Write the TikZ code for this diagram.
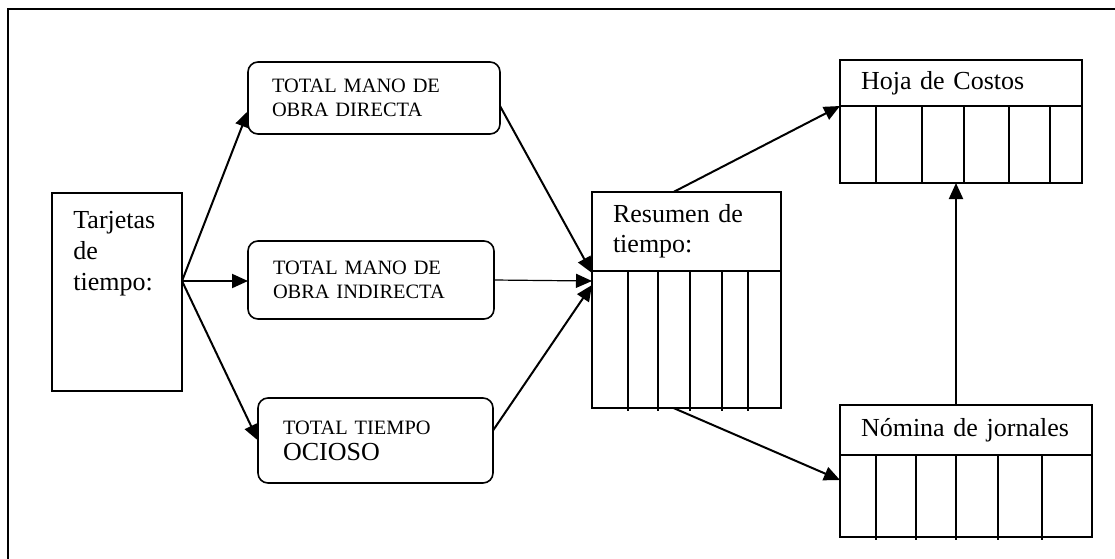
\documentclass[tikz,border=0pt]{standalone}
\usepackage{fontspec}
\setmainfont{Liberation Serif}
\usepackage{tikz}
\usetikzlibrary{positioning, arrows.meta}

\begin{document}
\begin{tikzpicture}[x=0.5pt, y=-0.5pt,
    box/.style={draw, line width=0.8pt, outer sep=0pt},
    roundbox/.style={box, rounded corners=5pt, align=left, font=\fontsize{10.2}{12}\selectfont},
    head/.style={box, align=left, font=\fontsize{13}{15}\selectfont},
    tip/.style={-{Triangle[length=8pt, width=7pt]}},
    arr/.style={tip, line width=1pt}]
            \useasboundingbox (0,0) rectangle (1115,558);
            \clip (0,0) rectangle (1115,558);

            % Outer frame
            \draw[line width=0.8pt] (8,9) rectangle (1130,575);

            % Tarjetas de tiempo
            \node[box, minimum width=65pt, minimum height=99pt] (tarj) at (117,292) {};
            \node[anchor=base west, align=left, inner sep=0pt, font=\fontsize{13}{15.3}\selectfont] (tarjtxt) at (73,290) {Tarjetas\\de\\tiempo:};
            \coordinate (split) at (182,281);

            % Rounded boxes
            \node[roundbox, minimum width=126pt, minimum height=36pt, text width=102pt, inner xsep=12pt] (tmod) at (374,98) {TOTAL MANO DE\\OBRA DIRECTA};
            \node[roundbox, minimum width=123pt, minimum height=39pt, text width=98pt, inner xsep=12.5pt] (tmoi) at (371,280) {TOTAL MANO DE\\OBRA INDIRECTA};
            \node[roundbox, minimum width=117.5pt, minimum height=42.5pt, text width=92.5pt, inner xsep=12.5pt] (tto) at (375.5,440.5) {TOTAL TIEMPO\\[1pt]{\fontsize{13}{15}\selectfont OCIOSO}};

            % Resumen de tiempo
            \node[head, minimum width=94.5pt, minimum height=39.5pt, text width=73.5pt, inner xsep=10.5pt] (resh) at (686.5,231.5) {Resumen de\\tiempo:};
            \node[box, minimum width=94.5pt, minimum height=68.5pt, below=0pt of resh] (resb) {};
            \foreach \dx in {36,66,98,130,156}
                \draw[line width=0.8pt] ([xshift=\dx*0.5pt]resb.north west) -- ++(0,140);

            % Hoja de Costos
            \node[head, minimum width=121pt, minimum height=23pt, text width=100pt, inner xsep=10.5pt] (hojah) at (961,83) {Hoja de Costos};
            \node[box, minimum width=121pt, minimum height=38.5pt, below=0pt of hojah] (hojab) {};
            \foreach \dx in {36,82,124,169,210}
                \draw[line width=0.8pt] ([xshift=\dx*0.5pt]hojab.north west) -- ++(0,77);

            % Nomina de jornales
            \node[head, minimum width=126pt, minimum height=25pt, text width=105pt, inner xsep=10.5pt] (nomh) at (966,430) {Nómina de jornales};
            \node[box, minimum width=126pt, minimum height=41pt, below=0pt of nomh] (nomb) {};
            \foreach \dx in {36,76,116,158,202}
                \draw[line width=0.8pt] ([xshift=\dx*0.5pt]nomb.north west) -- ++(0,85);

            % Arrows
            \draw[arr] (split) -- ([yshift=-6.5pt]tmod.west);
            \draw[arr] (split) -- (split -| tmoi.west);
            \draw[arr] (split) -- (tto.west);
            \draw[arr] ([yshift=-4pt]tmod.east) -- ([yshift=-1pt]resb.north west);
            \draw[tip, line width=0.6pt] (tmoi.east) -- ([yshift=-5pt]resb.north west);
            \draw[arr] ([yshift=5pt]tto.east) -- ([yshift=-7pt]resb.north west);
            \draw[arr] ([xshift=-6.5pt]resh.north) -- (hojab.north west);
            \draw[arr] ([xshift=-6.5pt]resb.south) -- ([yshift=-12.5pt]nomb.north west);
            \draw[arr] ([xshift=-5pt]nomh.north) -- ([xshift=-5pt]nomh.north |- hojab.south);
        \end{tikzpicture}
\end{document}
